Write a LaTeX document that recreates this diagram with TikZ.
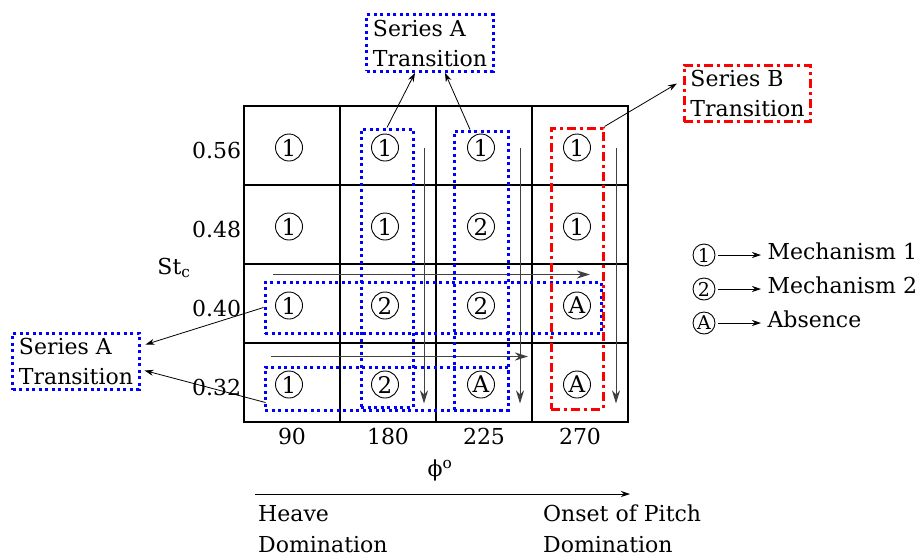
\documentclass[tikz,border=0pt]{standalone}
\usepackage{fontspec}
\setmainfont{DejaVu Serif}
\usetikzlibrary{positioning, calc, arrows.meta}

\begin{document}
\begin{tikzpicture}[
  x=1pt, y=-1pt,
  font=\fontsize{22}{30}\selectfont,
  >={Stealth[length=9pt, width=6pt]},
  cell/.style={rectangle, draw, line width=1.3pt, minimum width=96pt, minimum height=79pt, inner sep=0pt},
  mech/.style={circle, draw, line width=0.9pt, minimum size=27pt, inner sep=0pt, font=\fontsize{23}{23}\selectfont},
  keymech/.style={mech, minimum size=22pt, font=\fontsize{19}{19}\selectfont},
  seriesA/.style={draw=blue, line width=3pt, dash pattern=on 3pt off 3.5pt},
  seriesB/.style={draw=red, line width=3pt, dash pattern=on 9pt off 4pt on 3pt off 4pt},
  trans/.style={align=left, inner xsep=6pt, inner ysep=5pt},
  flow/.style={->, >={Stealth[length=13pt, width=8pt, inset=4pt]}, draw=black!75, line width=1pt},
  link/.style={->, line width=0.8pt}
]
\useasboundingbox (0,0) rectangle (918,558);

%--------------------------------------
% Grid of cases
%--------------------------------------
\foreach \row in {1,...,4}
  \foreach \col in {1,...,4}
    \node[cell] (c\row\col) at ({196+96*\col}, {66.5+79*\row}) {};

\foreach \row/\sa/\sb/\sc/\sd in {1/1/1/1/1, 2/1/1/2/1, 3/1/2/2/A, 4/1/2/A/A}
  \foreach \col/\sym in {1/\sa, 2/\sb, 3/\sc, 4/\sd}
    \node[mech] (m\row\col) at ($(c\row\col)+(-3,2)$) {\sym};

%--------------------------------------
% Axis labels
%--------------------------------------
\foreach \row/\val in {1/0.56, 2/0.48, 3/0.40, 4/0.32}
  \node[anchor=east, inner sep=2pt] (y\row) at ($(c\row1.west)+(0,5)$) {\val};
\foreach \col/\val in {1/90, 2/180, 3/225, 4/270}
  \node[below=2pt of c4\col] (x\col) {\val};
\node (stc) at (174,268) {St\textsubscript{c}};
\node (phi) at (440,470) {ϕ\textsuperscript{o}};

%--------------------------------------
% Sweep arrows
%--------------------------------------
\foreach \col in {2,3,4}
  \draw[flow] ($(c1\col)+(36,2)$) -- ($(c4\col)+(36,21)$);
\draw[flow] ($(c31)+(-19,-29)$) -- ($(c34)+(10,-29)$);
\draw[flow] ($(c41)+(-21,-26)$) -- ($(c43)+(44,-26)$);

%--------------------------------------
% Transition boxes
%--------------------------------------
\node[seriesA, minimum width=52, minimum height=278] (colB) at (387,268) {};
\node[seriesA, minimum width=54, minimum height=279] (colC) at (481,270.5) {};
\node[seriesA, minimum width=336, minimum height=51] (rowC) at (433,307.5) {};
\node[seriesA, minimum width=243, minimum height=43] (rowD) at (386.5,388.5) {};
\node[seriesB, minimum width=52, minimum height=281] (redD) at (577,268.5) {};

\node[trans, seriesA] (topA) at (430,43) {Series A\\Transition};
\node[trans, seriesA] (leftA) at (76,361.5) {Series A\\Transition};
\node[trans, seriesB] (topB) at (747.5,93.5) {Series B\\Transition};

\draw[link] (colB.north) -- ($(topA.south)+(-15,0)$);
\draw[link] ($(colC.north)+(-11,0)$) -- ($(topA.south)+(15,0)$);
\draw[link] (redD.north east) -- ($(topB.west)+(-6,-10)$);
\draw[link] (rowC.west) -- ($(leftA.east)+(5,-17)$);
\draw[link] ($(rowD.south west)+(2,-9)$) -- ($(leftA.east)+(4,9)$);

%--------------------------------------
% Legend
%--------------------------------------
\foreach \k/\sym/\txt in {1/1/Mechanism 1, 2/2/Mechanism 2, 3/A/Absence} {
  \node[keymech] (key\k) at (704, {255+34*(\k-1)}) {\sym};
  \node[anchor=west] (keytxt\k) at (764, {251+34*(\k-1)}) {\txt};
  \draw[link, shorten <=3pt, shorten >=3pt] (key\k) -- (key\k -| keytxt\k.west);
}

%--------------------------------------
% Heave / pitch arrow
%--------------------------------------
\coordinate (hstart) at (255,494);
\coordinate (hend) at (630,494);
\draw[link] (hstart) -- (hend);
\node[align=left, anchor=north west, inner sep=0pt, font=\fontsize{22}{31}\selectfont] (heave) at (258,505) {Heave\\Domination};
\node[align=left, anchor=north west, inner sep=0pt, font=\fontsize{22}{31}\selectfont] (pitch) at (543,505) {Onset of Pitch\\Domination};

\end{tikzpicture}
\end{document}
